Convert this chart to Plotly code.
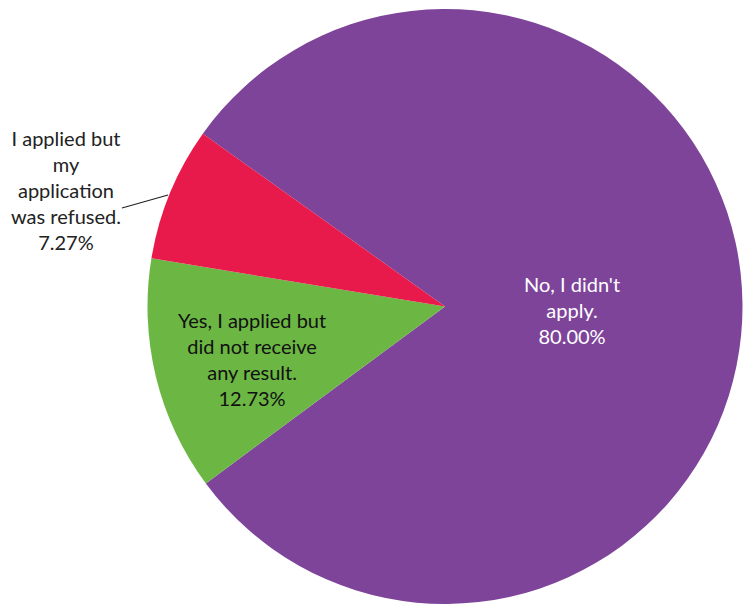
import plotly.graph_objects as go

W, H = 749, 604

labels = [
    "No, I didn't apply.",
    "Yes, I applied but did not receive any result.",
    "I applied but my application was refused.",
]
label_lines = [
    "No, I didn't<br>apply.",
    "Yes, I applied but<br>did not receive<br>any result.",
    "I applied but<br>my<br>application<br>was refused.",
]
shares = [80.00, 12.73, 7.27]
colors = ["#7E449A", "#6CB644", "#E8194B"]
text_colors = ["#FFFFFF", "#111111", "#222222"]

# label centres in pixels (x, y from top-left)
label_pos = [(572, 310), (252, 359), (66, 190)]


def px(x, y):
    return x / W, 1 - y / H


fig = go.Figure()

fig.add_trace(
    go.Pie(
        labels=labels,
        values=shares,
        marker=dict(colors=colors, line=dict(width=0)),
        sort=False,
        direction="clockwise",
        rotation=-54.5,
        textinfo="none",
        hoverinfo="label+percent",
        domain=dict(x=[147 / W, 743 / W], y=[0, 1 - 9 / H]),
        showlegend=False,
    )
)

for text, share, color, (lx, ly) in zip(label_lines, shares, text_colors, label_pos):
    x, y = px(lx, ly)
    fig.add_annotation(
        x=x,
        y=y,
        xref="paper",
        yref="paper",
        xanchor="center",
        yanchor="middle",
        text=f"{text}<br>{share:.2f}%",
        showarrow=False,
        align="center",
        font=dict(family="Lato", size=20, color=color),
    )

# leader line for the refused slice
x0, y0 = px(122, 208)
x1, y1 = px(168, 195)
fig.add_shape(
    type="line",
    xref="paper",
    yref="paper",
    x0=x0,
    y0=y0,
    x1=x1,
    y1=y1,
    line=dict(color="#222222", width=1.2),
)

fig.update_layout(
    width=W,
    height=H,
    margin=dict(l=0, r=0, t=0, b=0),
    paper_bgcolor="#FFFFFF",
    plot_bgcolor="#FFFFFF",
)

# drop the default page margin so the figure sits at the window's corner
fig.write_html(
    "out.html",
    config={"displayModeBar": False},
    post_script="document.body.style.margin='0';",
)
